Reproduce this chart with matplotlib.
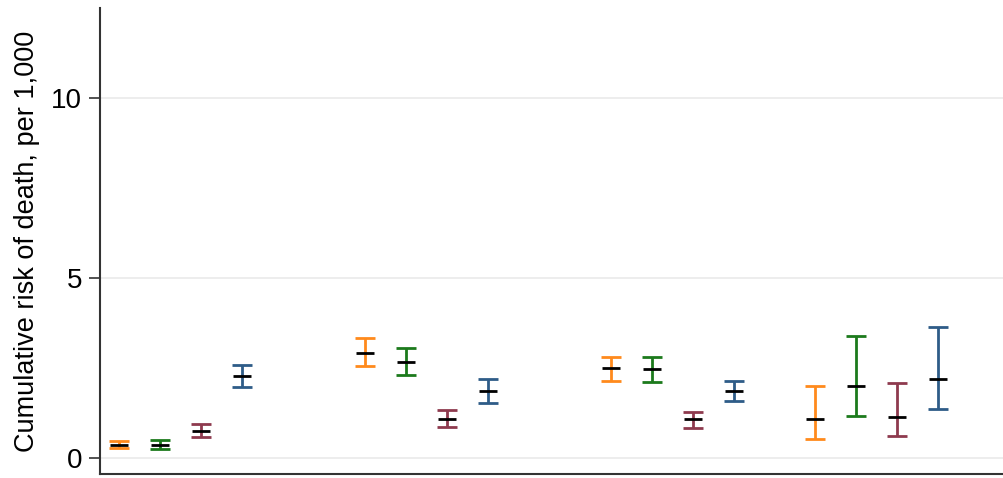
import matplotlib
matplotlib.use("Agg")
import matplotlib.pyplot as plt
import numpy as np

# Data (cumulative risk of death per 1,000): point estimate, lower, upper
positions = [1, 2, 3, 4, 7, 8, 9, 10, 13, 14, 15, 16, 18, 19, 20, 21]
estimate = [0.37, 0.36, 0.76, 2.27, 2.91, 2.66, 1.08, 1.86, 2.49, 2.47, 1.08, 1.86, 1.08, 2.00, 1.14, 2.19]
lower    = [0.27, 0.25, 0.58, 1.97, 2.55, 2.30, 0.86, 1.52, 2.13, 2.11, 0.83, 1.58, 0.53, 1.16, 0.61, 1.36]
upper    = [0.49, 0.51, 0.94, 2.58, 3.35, 3.05, 1.33, 2.19, 2.80, 2.80, 1.27, 2.13, 2.00, 3.38, 2.08, 3.63]
series_colors = ["#FF8A1C", "#1C7A1C", "#8E3A4E", "#2E5C88"]
y_ticks = [0, 5, 10]
y_label = "Cumulative risk of death, per 1,000"

plt.rcParams['font.family'] = ['Liberation Sans', 'DejaVu Sans']

fig = plt.figure(figsize=(10.04, 4.78), dpi=100)
ax = fig.add_axes([100/1004, 4/478, 904/1004, 466/478])

for i, (x, e, lo, hi) in enumerate(zip(positions, estimate, lower, upper)):
    c = series_colors[i % 4]
    ax.errorbar([x], [e], yerr=[[e - lo], [hi - e]], fmt='none', ecolor=c,
                elinewidth=2, capsize=7.5, capthick=2, zorder=3)
    ax.plot([x], [e], marker='_', color='black', markersize=13, markeredgewidth=2, zorder=4)

ax.set_xlim(0.54, 22.6)
ax.set_ylim(-0.44, 12.5)
ax.set_yticks(y_ticks)
ax.set_yticklabels([str(t) for t in y_ticks], fontsize=20)
ax.set_xticks([])
ax.set_ylabel(y_label, fontsize=19.5, labelpad=8)
ax.yaxis.grid(True, color='#EAEAEA', linewidth=1.2)
ax.set_axisbelow(True)
ax.tick_params(axis='y', length=8, width=1.2, color='#333333', pad=5)
for s in ['top', 'right']:
    ax.spines[s].set_visible(False)
for s in ['left', 'bottom']:
    ax.spines[s].set_color('#333333')
    ax.spines[s].set_linewidth(1.5)

fig.savefig("out.png", dpi=100)
